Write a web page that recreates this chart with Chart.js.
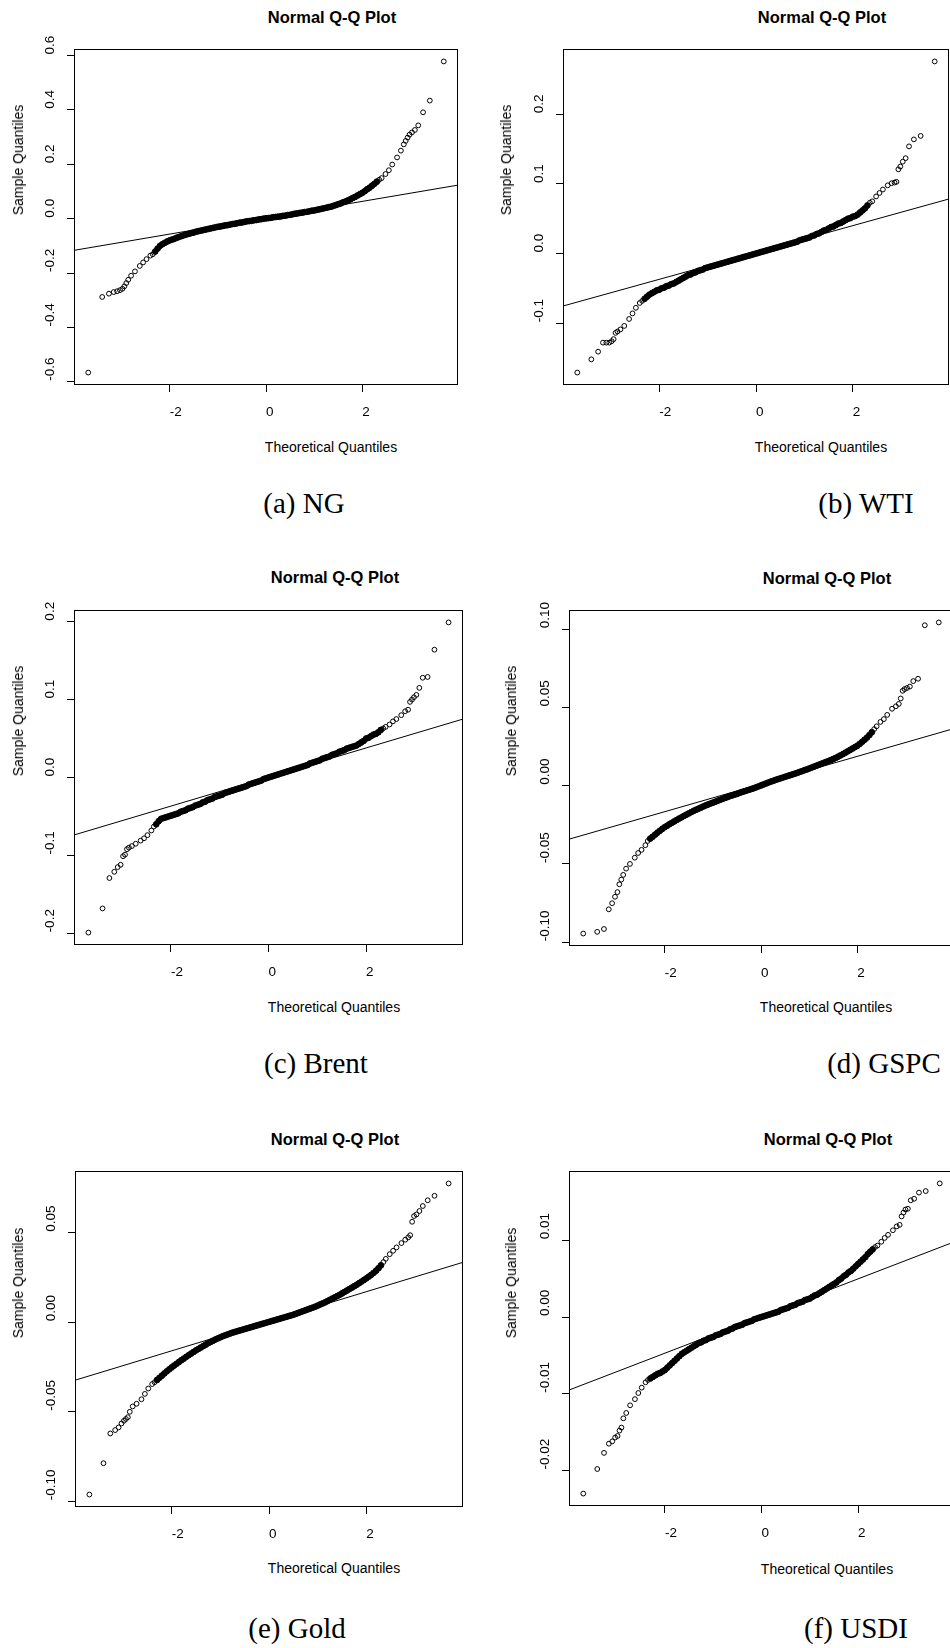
<!DOCTYPE html>
<html>
<head>
<meta charset="utf-8">
<title>Normal Q-Q Plots</title>
<script src="https://cdn.jsdelivr.net/npm/chart.js@4.4.0/dist/chart.umd.min.js"></script>
<style>
  html, body { margin: 0; padding: 0; background: #fff; }
  body { width: 950px; height: 1648px; position: relative; overflow: hidden; }
  canvas { position: absolute; }
  .lbl { position: absolute; transform: translate(-50%, -50%); white-space: nowrap; line-height: 1; color: #000;
         font-family: 'Liberation Sans', Arial, sans-serif; }
  .title { font-weight: bold; font-size: 16.5px; }
  .axis { font-size: 14px; }
  .ylab { transform: translate(-50%, -50%) rotate(-90deg); }
  .cap { font-family: 'Liberation Serif', 'Times New Roman', serif; font-size: 29px; }
</style>
</head>
<body>
<script>
// theoretical quantiles (shared by every panel)
const theoretical = [
  -3.69, -3.40, -3.26, -3.16, -3.09, -3.03, -2.98, -2.94, -2.90, -2.86, -2.80, -2.72, -2.62, -2.55, -2.48, -2.40,
  -2.35, -2.30, -2.25, -2.20, -2.15, -2.10, -2.05, -2.00, -1.95, -1.90,
  -1.85, -1.80, -1.75, -1.70, -1.65, -1.60, -1.55, -1.50, -1.45, -1.40,
  -1.35, -1.30, -1.25, -1.20, -1.15, -1.10, -1.05, -1.00, -0.95, -0.90,
  -0.85, -0.80, -0.75, -0.70, -0.65, -0.60, -0.55, -0.50, -0.45, -0.40,
  -0.35, -0.30, -0.25, -0.20, -0.15, -0.10, -0.05, 0.00, 0.05, 0.10,
  0.15, 0.20, 0.25, 0.30, 0.35, 0.40, 0.45, 0.50, 0.55, 0.60,
  0.65, 0.70, 0.75, 0.80, 0.85, 0.90, 0.95, 1.00, 1.05, 1.10,
  1.15, 1.20, 1.25, 1.30, 1.35, 1.40, 1.45, 1.50, 1.55, 1.60,
  1.65, 1.70, 1.75, 1.80, 1.85, 1.90, 1.95, 2.00, 2.05, 2.10,
  2.15, 2.20, 2.25, 2.30, 2.35,
  2.40, 2.48, 2.55, 2.62, 2.72, 2.80, 2.86, 2.90, 2.94, 2.98, 3.03, 3.09, 3.16, 3.26, 3.40, 3.69
];

// sample quantiles, one array per series
const ngQuantiles = [
  -0.566, -0.288, -0.276, -0.270, -0.267, -0.263, -0.258, -0.249, -0.237, -0.225, -0.210, -0.194, -0.174, -0.161, -0.149, -0.136,
  -0.131, -0.121, -0.110, -0.100, -0.094, -0.089, -0.084, -0.080, -0.077, -0.074,
  -0.070, -0.067, -0.064, -0.061, -0.058, -0.056, -0.053, -0.051, -0.048, -0.046,
  -0.044, -0.042, -0.040, -0.038, -0.036, -0.034, -0.032, -0.030, -0.029, -0.027,
  -0.025, -0.024, -0.022, -0.020, -0.019, -0.017, -0.015, -0.014, -0.012, -0.010,
  -0.009, -0.008, -0.006, -0.005, -0.003, -0.002, 0.000, 0.001, 0.002, 0.003,
  0.005, 0.006, 0.007, 0.008, 0.010, 0.011, 0.013, 0.014, 0.016, 0.018,
  0.019, 0.021, 0.022, 0.024, 0.025, 0.027, 0.029, 0.030, 0.032, 0.034,
  0.036, 0.038, 0.040, 0.042, 0.044, 0.047, 0.050, 0.053, 0.056, 0.060,
  0.063, 0.067, 0.071, 0.076, 0.080, 0.085, 0.090, 0.095, 0.101, 0.108,
  0.114, 0.121, 0.128, 0.136, 0.143,
  0.149, 0.164, 0.178, 0.199, 0.225, 0.250, 0.273, 0.286, 0.298, 0.309, 0.317, 0.326, 0.343, 0.391, 0.434, 0.578
];
const wtiQuantiles = [
  -0.171, -0.152, -0.141, -0.128, -0.128, -0.128, -0.126, -0.123, -0.114, -0.112, -0.109, -0.104, -0.094, -0.086, -0.078, -0.071,
  -0.068, -0.065, -0.062, -0.059, -0.057, -0.055, -0.053, -0.052, -0.050, -0.049,
  -0.047, -0.046, -0.044, -0.043, -0.041, -0.039, -0.037, -0.035, -0.033, -0.031,
  -0.030, -0.028, -0.027, -0.025, -0.024, -0.023, -0.021, -0.020, -0.019, -0.018,
  -0.017, -0.016, -0.015, -0.014, -0.013, -0.012, -0.011, -0.010, -0.009, -0.008,
  -0.007, -0.006, -0.005, -0.004, -0.003, -0.002, -0.001, 0.000, 0.001, 0.002,
  0.003, 0.004, 0.005, 0.006, 0.007, 0.008, 0.009, 0.010, 0.011, 0.012,
  0.013, 0.014, 0.015, 0.016, 0.017, 0.019, 0.020, 0.021, 0.022, 0.023,
  0.025, 0.026, 0.028, 0.029, 0.031, 0.033, 0.034, 0.036, 0.038, 0.039,
  0.041, 0.043, 0.044, 0.046, 0.048, 0.050, 0.051, 0.053, 0.054, 0.056,
  0.059, 0.062, 0.065, 0.069, 0.073,
  0.075, 0.082, 0.087, 0.092, 0.098, 0.101, 0.102, 0.103, 0.121, 0.125, 0.132, 0.137, 0.154, 0.164, 0.169, 0.276
];
const brentQuantiles = [
  -0.199, -0.168, -0.129, -0.121, -0.115, -0.112, -0.101, -0.099, -0.092, -0.090, -0.088, -0.085, -0.081, -0.078, -0.074, -0.068,
  -0.063, -0.060, -0.056, -0.053, -0.052, -0.051, -0.050, -0.049, -0.048, -0.047,
  -0.046, -0.044, -0.043, -0.042, -0.040, -0.039, -0.038, -0.036, -0.035, -0.034,
  -0.032, -0.031, -0.029, -0.028, -0.027, -0.025, -0.024, -0.023, -0.022, -0.020,
  -0.019, -0.018, -0.017, -0.016, -0.015, -0.014, -0.013, -0.012, -0.011, -0.009,
  -0.008, -0.007, -0.006, -0.005, -0.004, -0.002, -0.001, 0.000, 0.001, 0.002,
  0.003, 0.004, 0.005, 0.006, 0.007, 0.008, 0.009, 0.010, 0.011, 0.012,
  0.013, 0.014, 0.015, 0.016, 0.018, 0.019, 0.020, 0.021, 0.022, 0.024,
  0.025, 0.026, 0.027, 0.029, 0.030, 0.031, 0.033, 0.034, 0.035, 0.037,
  0.038, 0.039, 0.040, 0.041, 0.043, 0.045, 0.047, 0.050, 0.051, 0.053,
  0.055, 0.056, 0.058, 0.061, 0.063,
  0.065, 0.068, 0.072, 0.075, 0.080, 0.085, 0.087, 0.097, 0.100, 0.103, 0.106, 0.115, 0.128, 0.129, 0.164, 0.199
];
const gspcQuantiles = [
  -0.0945, -0.0934, -0.0916, -0.0790, -0.0751, -0.0710, -0.0680, -0.0630, -0.0600, -0.0570, -0.0530, -0.0500, -0.0460, -0.0430, -0.0410, -0.0380,
  -0.0353, -0.0338, -0.0326, -0.0313, -0.0300, -0.0288, -0.0276, -0.0265, -0.0256, -0.0246,
  -0.0237, -0.0228, -0.0219, -0.0210, -0.0202, -0.0193, -0.0185, -0.0177, -0.0169, -0.0161,
  -0.0154, -0.0147, -0.0140, -0.0133, -0.0126, -0.0120, -0.0114, -0.0108, -0.0102, -0.0096,
  -0.0090, -0.0084, -0.0078, -0.0073, -0.0067, -0.0062, -0.0057, -0.0052, -0.0046, -0.0041,
  -0.0036, -0.0031, -0.0026, -0.0021, -0.0016, -0.0010, -0.0004, 0.0002, 0.0008, 0.0014,
  0.0020, 0.0026, 0.0031, 0.0037, 0.0042, 0.0047, 0.0052, 0.0057, 0.0062, 0.0067,
  0.0072, 0.0077, 0.0082, 0.0088, 0.0093, 0.0099, 0.0104, 0.0110, 0.0116, 0.0122,
  0.0128, 0.0134, 0.0140, 0.0146, 0.0152, 0.0158, 0.0164, 0.0171, 0.0178, 0.0186,
  0.0194, 0.0202, 0.0211, 0.0220, 0.0229, 0.0238, 0.0247, 0.0256, 0.0268, 0.0281,
  0.0294, 0.0308, 0.0324, 0.0342, 0.0362,
  0.0380, 0.0408, 0.0426, 0.0453, 0.0492, 0.0508, 0.0523, 0.0558, 0.0607, 0.0618, 0.0625, 0.0634, 0.0669, 0.0684, 0.1026, 0.1044
];
const goldQuantiles = [
  -0.0962, -0.0787, -0.0621, -0.0602, -0.0587, -0.0565, -0.0550, -0.0540, -0.0530, -0.0500, -0.0470, -0.0455, -0.0430, -0.0400, -0.0370, -0.0345,
  -0.0335, -0.0322, -0.0310, -0.0298, -0.0286, -0.0274, -0.0263, -0.0252, -0.0242, -0.0232,
  -0.0222, -0.0212, -0.0203, -0.0193, -0.0184, -0.0175, -0.0166, -0.0157, -0.0149, -0.0141,
  -0.0133, -0.0125, -0.0117, -0.0110, -0.0103, -0.0096, -0.0090, -0.0084, -0.0078, -0.0073,
  -0.0068, -0.0063, -0.0058, -0.0054, -0.0050, -0.0046, -0.0042, -0.0038, -0.0034, -0.0030,
  -0.0026, -0.0022, -0.0018, -0.0014, -0.0010, -0.0006, -0.0002, 0.0002, 0.0006, 0.0010,
  0.0014, 0.0018, 0.0022, 0.0026, 0.0030, 0.0034, 0.0038, 0.0042, 0.0047, 0.0052,
  0.0057, 0.0062, 0.0067, 0.0072, 0.0077, 0.0082, 0.0087, 0.0093, 0.0099, 0.0105,
  0.0111, 0.0118, 0.0125, 0.0132, 0.0139, 0.0146, 0.0153, 0.0161, 0.0169, 0.0177,
  0.0185, 0.0193, 0.0201, 0.0209, 0.0218, 0.0227, 0.0236, 0.0245, 0.0255, 0.0265,
  0.0276, 0.0288, 0.0302, 0.0318, 0.0336,
  0.0354, 0.0380, 0.0399, 0.0418, 0.0442, 0.0461, 0.0474, 0.0486, 0.0561, 0.0593, 0.0602, 0.0621, 0.0649, 0.0681, 0.0706, 0.0775
];
const usdiQuantiles = [
  -0.0230, -0.0198, -0.0177, -0.0165, -0.0162, -0.0157, -0.0155, -0.0148, -0.0144, -0.0132, -0.0125, -0.0115, -0.0107, -0.0099, -0.0092, -0.0085,
  -0.0082, -0.0080, -0.0078, -0.0076, -0.0074, -0.0073, -0.0071, -0.0069, -0.0066, -0.0063,
  -0.0060, -0.0057, -0.0054, -0.0051, -0.0048, -0.0046, -0.0044, -0.0042, -0.0040, -0.0038,
  -0.0036, -0.0034, -0.0033, -0.0031, -0.0030, -0.0028, -0.0027, -0.0026, -0.0024, -0.0023,
  -0.0022, -0.0020, -0.0019, -0.0018, -0.0016, -0.0015, -0.0013, -0.0012, -0.0011, -0.0010,
  -0.0008, -0.0007, -0.0006, -0.0005, -0.0003, -0.0002, -0.0001, 0.0000, 0.0001, 0.0002,
  0.0003, 0.0004, 0.0005, 0.0006, 0.0007, 0.0009, 0.0010, 0.0011, 0.0012, 0.0014,
  0.0015, 0.0016, 0.0018, 0.0019, 0.0020, 0.0022, 0.0023, 0.0024, 0.0026, 0.0028,
  0.0029, 0.0031, 0.0033, 0.0035, 0.0037, 0.0039, 0.0041, 0.0043, 0.0045, 0.0048,
  0.0050, 0.0053, 0.0055, 0.0058, 0.0060, 0.0063, 0.0066, 0.0069, 0.0072, 0.0075,
  0.0078, 0.0082, 0.0085, 0.0088, 0.0091,
  0.0093, 0.0098, 0.0103, 0.0107, 0.0113, 0.0118, 0.0120, 0.0131, 0.0136, 0.0140, 0.0141, 0.0152, 0.0154, 0.0162, 0.0164, 0.0174
];

const sampleQuantiles = [ngQuantiles, wtiQuantiles, brentQuantiles, gspcQuantiles, goldQuantiles, usdiQuantiles];
const captions = ['(a) NG', '(b) WTI', '(c) Brent', '(d) GSPC', '(e) Gold', '(f) USDI'];

// qqline through the quartiles
const lineIntercept = [0.0033, 0.0015, 0.0006, 0.0011, 0.00055, 0.00013];
const lineSlope = [0.0301, 0.0193, 0.01866, 0.00885, 0.00826, 0.00242];

const xTickLabels = ['-2', '0', '2'];
const yTickLabels = [
  ['-0.6', '-0.4', '-0.2', '0.0', '0.2', '0.4', '0.6'],
  ['-0.1', '0.0', '0.1', '0.2'],
  ['-0.2', '-0.1', '0.0', '0.1', '0.2'],
  ['-0.10', '-0.05', '0.00', '0.05', '0.10'],
  ['-0.10', '-0.05', '0.00', '0.05'],
  ['-0.02', '-0.01', '0.00', '0.01']
];

// page layout: plot box [left, top, right, bottom] and text centres
const layout = [
  { box: [74, 49, 458, 385],     title: [332, 16.5],  xlab: [331, 446.5],  ylab: [17.5, 160], cap: [304, 503] },
  { box: [563, 49, 949, 385],    title: [822, 16.5],  xlab: [821, 446.5],  ylab: [505.5, 160], cap: [866, 503] },
  { box: [74, 610, 463, 945],    title: [335, 577],   xlab: [334, 1006.5], ylab: [17.5, 721], cap: [316, 1063] },
  { box: [569, 610, 953, 946],   title: [827, 577.5], xlab: [826, 1007],   ylab: [511, 721],  cap: [884, 1063] },
  { box: [75, 1171, 463, 1507],  title: [335, 1138.5], xlab: [334, 1568],  ylab: [17.5, 1283], cap: [297, 1628] },
  { box: [569, 1171, 954, 1506], title: [828, 1138.5], xlab: [827, 1569],  ylab: [511, 1283], cap: [856, 1628] }
];

const FONT = "'Liberation Sans', Arial, sans-serif";
const TICK_SIZE = 13.5;
const TICK_LEN = 7;
const Y_LABEL_GAP = 24;   // plot edge to centre of rotated y labels
const AXIS_W = 60, AXIS_H = 45, PAD_T = 20, PAD_R = 10;
const DENSE_LIMIT = 2.3;  // inside this the circles pile up into a solid band

Chart.defaults.font.family = FONT;
Chart.defaults.color = '#000';

// R style limits: data range stretched by 4% on each side
function paddedRange(values) {
    const lo = Math.min(...values);
    const hi = Math.max(...values);
    const pad = (hi - lo) * 0.04;
    return [lo - pad, hi + pad];
}

function addText(text, cls, pos) {
    const el = document.createElement('div');
    el.className = 'lbl ' + cls;
    el.textContent = text;
    el.style.left = pos[0] + 'px';
    el.style.top = pos[1] + 'px';
    document.body.appendChild(el);
}

const plotBox = {
    id: 'plotBox',
    afterDraw(chart) {
        const a = chart.chartArea;
        const ctx = chart.ctx;
        ctx.save();
        ctx.strokeStyle = '#000';
        ctx.lineWidth = 1;
        ctx.strokeRect(Math.round(a.left) + 0.5, Math.round(a.top) + 0.5,
                       Math.round(a.right - a.left) - 1, Math.round(a.bottom - a.top) - 1);
        ctx.restore();
    }
};

const isDense = ctx => ctx.raw && Math.abs(ctx.raw.x) <= DENSE_LIMIT;
const xRange = paddedRange(theoretical);

sampleQuantiles.forEach(function (sample, i) {
    const lay = layout[i];
    const L = lay.box[0], T = lay.box[1], R = lay.box[2], B = lay.box[3];
    const w = R - L + AXIS_W + PAD_R;
    const h = B - T + PAD_T + AXIS_H;

    const canvas = document.createElement('canvas');
    canvas.width = w;
    canvas.height = h;
    canvas.style.left = (L - AXIS_W) + 'px';
    canvas.style.top = (T - PAD_T) + 'px';
    canvas.style.width = w + 'px';
    canvas.style.height = h + 'px';
    document.body.appendChild(canvas);

    const yRange = paddedRange(sample);
    const labels = yTickLabels[i];

    new Chart(canvas.getContext('2d'), {
        type: 'scatter',
        data: {
            datasets: [{
                data: [
                    { x: xRange[0], y: lineIntercept[i] + lineSlope[i] * xRange[0] },
                    { x: xRange[1], y: lineIntercept[i] + lineSlope[i] * xRange[1] }
                ],
                showLine: true,
                borderColor: '#000',
                borderWidth: 1,
                pointRadius: 0
            }, {
                data: theoretical.map((x, k) => ({ x: x, y: sample[k] })),
                pointStyle: 'circle',
                pointRadius: ctx => isDense(ctx) ? 2.9 : 2.4,
                pointBorderWidth: 1,
                borderColor: '#000',
                pointBackgroundColor: ctx => isDense(ctx) ? '#000' : 'rgba(0,0,0,0)'
            }]
        },
        options: {
            responsive: false,
            animation: false,
            devicePixelRatio: 1,
            events: [],
            layout: { padding: { left: 0, top: PAD_T, right: PAD_R, bottom: 0 } },
            plugins: {
                legend: { display: false },
                tooltip: { enabled: false }
            },
            scales: {
                x: {
                    type: 'linear',
                    min: xRange[0],
                    max: xRange[1],
                    afterFit: function (scale) { scale.height = AXIS_H; },
                    afterBuildTicks: function (scale) {
                        scale.ticks = xTickLabels.map(l => ({ value: parseFloat(l) }));
                    },
                    ticks: {
                        callback: (v, k) => xTickLabels[k],
                        font: { size: TICK_SIZE },
                        color: '#000',
                        align: 'start',
                        padding: 12,
                        autoSkip: false,
                        maxRotation: 0,
                        minRotation: 0
                    },
                    grid: { drawOnChartArea: false, drawTicks: true, tickLength: TICK_LEN, color: '#000' },
                    border: { display: false }
                },
                y: {
                    type: 'linear',
                    min: yRange[0],
                    max: yRange[1],
                    afterFit: function (scale) { scale.width = AXIS_W; },
                    afterBuildTicks: function (scale) {
                        scale.ticks = labels.map(l => ({ value: parseFloat(l) }));
                    },
                    ticks: {
                        callback: (v, k) => labels[k],
                        font: { size: TICK_SIZE },
                        color: '#000',
                        minRotation: 90,
                        maxRotation: 90,
                        // mirrored + negative padding puts the label start on the tick, outside the box
                        mirror: true,
                        crossAlign: 'near',
                        padding: -Y_LABEL_GAP,
                        labelOffset: -1,
                        autoSkip: false
                    },
                    grid: { drawOnChartArea: false, drawTicks: true, tickLength: TICK_LEN, color: '#000' },
                    border: { display: false }
                }
            }
        },
        plugins: [plotBox]
    });

    addText('Normal Q-Q Plot', 'title', lay.title);
    addText('Theoretical Quantiles', 'axis', lay.xlab);
    addText('Sample Quantiles', 'axis ylab', lay.ylab);
    addText(captions[i], 'cap', lay.cap);
});
</script>
</body>
</html>
